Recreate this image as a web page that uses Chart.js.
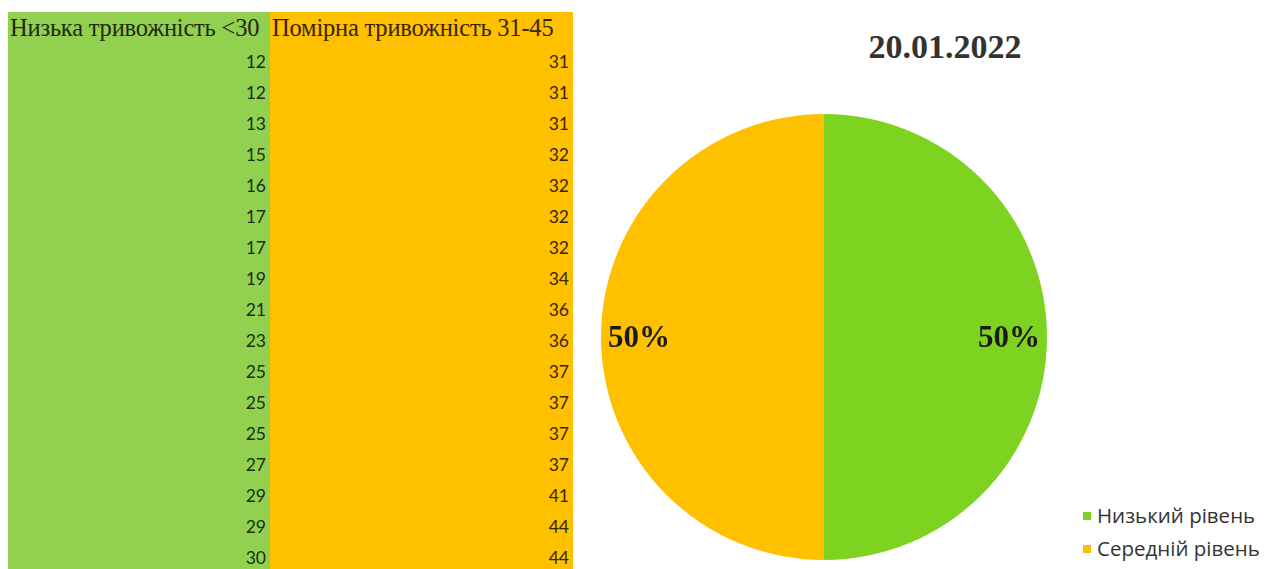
<!DOCTYPE html>
<html>
<head>
<meta charset="utf-8">
<script src="https://cdn.jsdelivr.net/npm/chart.js@4/dist/chart.umd.min.js"></script>
<style>
  html, body { margin:0; padding:0; background:#fff; width:1282px; height:569px; overflow:hidden; position:relative; }
  #tbl { position:absolute; left:8px; top:12px; border-collapse:collapse; table-layout:fixed; width:565px; }
  #tbl th { font-family:"Liberation Serif", serif; font-weight:normal; font-size:24.5px; color:#1e2a10; height:31px; padding:0 0 0 2px; text-align:left; white-space:nowrap; vertical-align:middle; overflow:visible; letter-spacing:-0.2px; }
  #tbl td { font-family:"Lato", sans-serif; font-size:17.5px; color:#1e2d12; height:31px; padding:0 4px 0 0; text-align:right; vertical-align:bottom; line-height:24px; }
  .c0 { background:#92D050; }
  .c1 { background:#FFC000; color:#3a2500 !important; }
  th.c0 { width:260px; }
  th.c1 { width:301px; }
  #wrap { position:absolute; left:601px; top:114px; width:446px; height:446px; }
  #title { position:absolute; left:845px; width:200px; top:28px; text-align:center; font-family:"Liberation Serif", serif; font-weight:bold; font-size:34px; color:#333; line-height:38px; }
  #legend { position:absolute; left:1083px; top:500px; font-family:"Open Sans", sans-serif; font-size:20.5px; color:#333; }
  #legend div { height:33px; line-height:30px; white-space:nowrap; }
  #legend span.sw { display:inline-block; width:8px; height:8px; margin-right:6px; vertical-align:middle; position:relative; top:-2px; }
</style>
</head>
<body>
<table id="tbl"></table>
<div id="title"></div>
<div id="wrap"><canvas id="c" width="446" height="446"></canvas></div>
<div id="legend"></div>
<script>
const tableHeaders = ['Низька тривожність <30', 'Помірна тривожність 31-45'];
const lowAnxiety = [12, 12, 13, 15, 16, 17, 17, 19, 21, 23, 25, 25, 25, 27, 29, 29, 30];
const moderateAnxiety = [31, 31, 31, 32, 32, 32, 32, 34, 36, 36, 37, 37, 37, 37, 41, 44, 44];
const pieTitle = '20.01.2022';
const pieLabels = ['Низький рівень', 'Середній рівень'];
const pieValues = [50, 50];
const pieColors = ['#7ED321', '#FFC000'];

// table
const tbl = document.getElementById('tbl');
let html = '<tr><th class="c0">' + tableHeaders[0].replace('<','&lt;') + '</th><th class="c1">' + tableHeaders[1] + '</th></tr>';
for (let i = 0; i < lowAnxiety.length; i++) {
  html += '<tr><td class="c0">' + lowAnxiety[i] + '</td><td class="c1">' + moderateAnxiety[i] + '</td></tr>';
}
tbl.innerHTML = html;

document.getElementById('title').textContent = pieTitle;
document.getElementById('legend').innerHTML = pieLabels.map((l, i) =>
  '<div><span class="sw" style="background:' + pieColors[i] + '"></span>' + l + '</div>').join('');

const pctLabels = {
  id: 'pctLabels',
  afterDatasetsDraw(chart) {
    const ctx = chart.ctx;
    const meta = chart.getDatasetMeta(0);
    const data = chart.data.datasets[0].data;
    const total = data.reduce((a, b) => a + b, 0);
    ctx.save();
    ctx.font = 'bold 31px "Liberation Serif", serif';
    ctx.fillStyle = '#1a1a1a';
    ctx.textAlign = 'center';
    ctx.textBaseline = 'middle';
    meta.data.forEach((arc, i) => {
      const p = arc.getProps(['x', 'y', 'startAngle', 'endAngle', 'outerRadius'], true);
      const mid = (p.startAngle + p.endAngle) / 2;
      const r = p.outerRadius * 0.83;
      ctx.fillText(Math.round(data[i] / total * 100) + '%', p.x + Math.cos(mid) * r, p.y + Math.sin(mid) * r + 2);
    });
    ctx.restore();
  }
};

new Chart(document.getElementById('c'), {
  type: 'pie',
  data: { labels: pieLabels, datasets: [{ data: pieValues, backgroundColor: pieColors, borderWidth: 0 }] },
  options: {
    responsive: false,
    animation: false,
    layout: { padding: 0 },
    plugins: { legend: { display: false }, tooltip: { enabled: false }, title: { display: false } }
  },
  plugins: [pctLabels]
});
</script>
</body>
</html>
